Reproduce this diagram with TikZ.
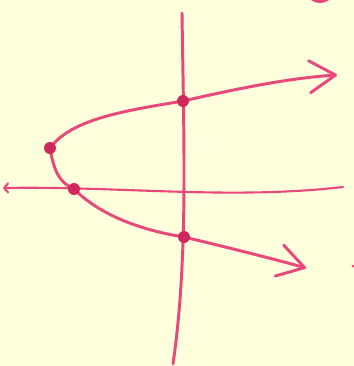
\documentclass[tikz,border=0pt]{standalone}
\usepackage{tikz}
\usetikzlibrary{arrows.meta}

\definecolor{paper}{RGB}{255,255,221}
\definecolor{inkpink}{RGB}{232,72,122}
\definecolor{dotpink}{RGB}{208,40,92}

\begin{document}
\begin{tikzpicture}[
  x=0.05cm, y=-0.05cm,
  pen/.style={draw=inkpink, line width=4.2pt, line cap=round, line join=round},
  barb/.style={-{Straight Barb[length=1.3cm, width=1.6cm, round]}},
  pt/.style={fill=dotpink},
]
  % paper
  \fill[paper] (0,0) rectangle (354,366);
  \useasboundingbox (0,0) rectangle (354,366);

  % axes
  \coordinate (yt) at (182,13);
  \coordinate (yb) at (173,364);
  \coordinate (xl) at (3,188);
  \coordinate (xr) at (343,187);
  \draw[pen] (yt) .. controls (184,150) and (188,260) .. (yb);
  \draw[pen, line width=3pt, {Straight Barb[length=0.2cm, width=0.45cm, round]}-]
    (xl) .. controls (120,186) and (230,200) .. (xr);

  % points on the curve
  \coordinate (v) at (50,148);
  \coordinate (xa) at (74,189);
  \coordinate (ya) at (183,101);
  \coordinate (yc) at (184,237);

  % parabola
  \draw[pen, barb] (v) .. controls (72,118) and (130,110) .. (ya)
    .. controls (240,88) and (290,78) .. (337,75);
  \draw[pen, barb] (v) .. controls (54,172) and (60,183) .. (xa)
    .. controls (100,215) and (140,230) .. (yc)
    .. controls (230,248) and (270,258) .. (306,268);

  % dots
  \foreach \p in {v,xa,ya,yc}
    \fill[pt] (\p) circle (6);

  % marks at the edges
  \fill[inkpink] (320,-12) ellipse (15 and 15);
  \fill[inkpink] (353,266) circle (1.5);
\end{tikzpicture}
\end{document}
